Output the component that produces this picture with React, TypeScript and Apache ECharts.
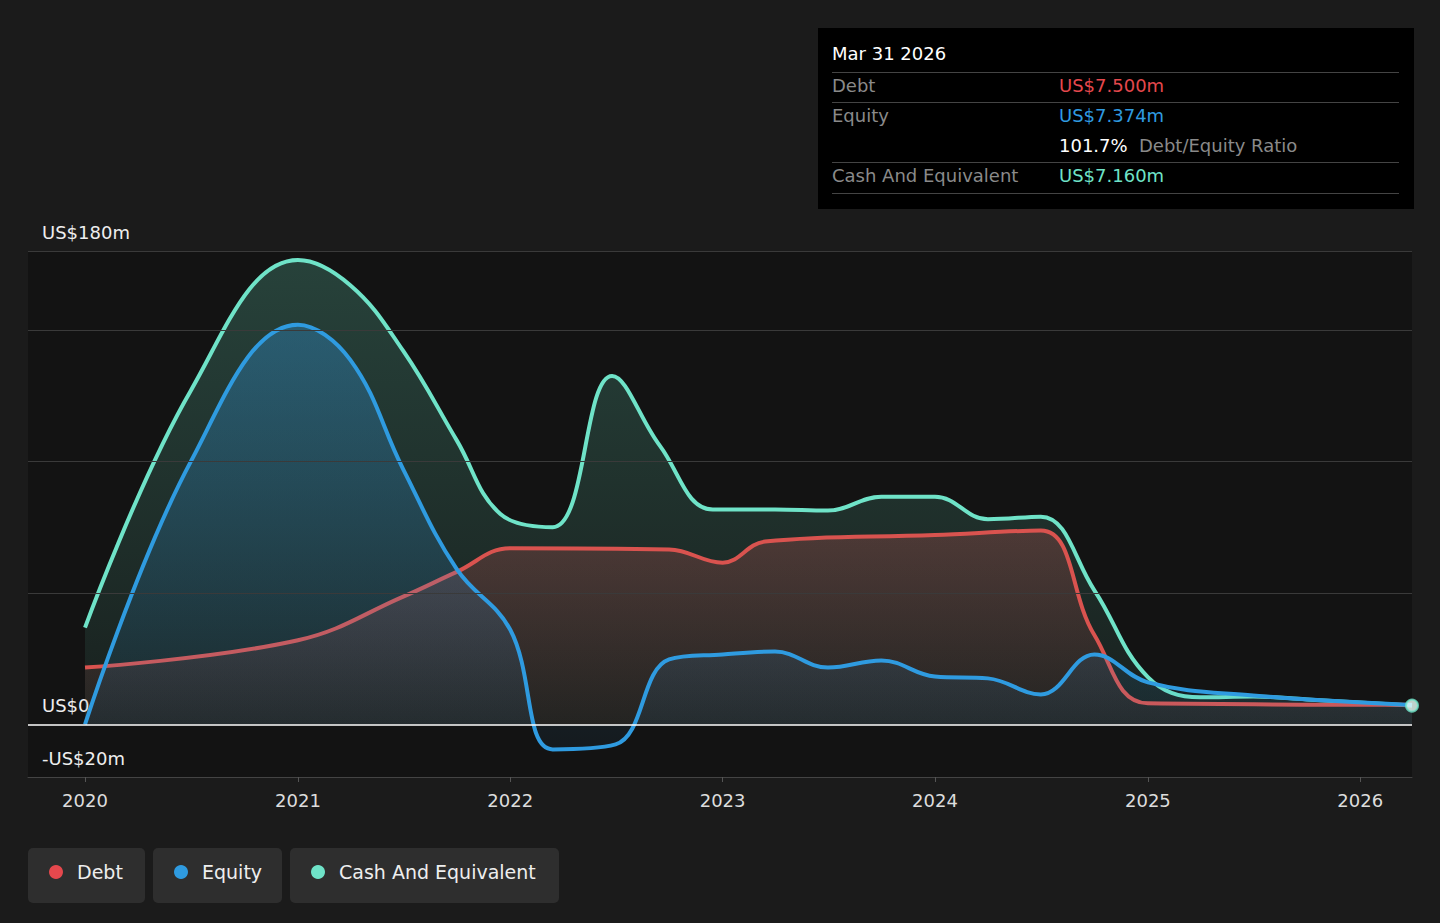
import { useEffect, useRef } from "react";
import * as echarts from "echarts";

// values in US$m
const debtData: [string, number][] = [
  ["2020-01-01", 21.6], ["2021-01-01", 32], ["2021-07-01", 48.6], ["2021-10-01", 58],
  ["2022-01-01", 67], ["2022-10-01", 66.5], ["2023-01-01", 61.5], ["2023-03-15", 69.5],
  ["2024-01-01", 72], ["2024-07-01", 73.7], ["2024-10-01", 34], ["2025-01-01", 8],
  ["2026-03-31", 7.5],
];
const equityData: [string, number][] = [
  ["2020-01-01", 0], ["2020-07-01", 100], ["2021-01-01", 152], ["2021-04-01", 138.6],
  ["2021-07-01", 97], ["2021-10-01", 59], ["2022-01-01", 36], ["2022-03-15", -9.5],
  ["2022-07-01", -7.6], ["2022-10-01", 24.7], ["2023-01-01", 26.6], ["2023-04-01", 27.7],
  ["2023-07-01", 21.6], ["2023-10-01", 24.3], ["2024-01-01", 18.2], ["2024-04-01", 17.5],
  ["2024-07-01", 11.4], ["2024-10-01", 26.6], ["2025-01-01", 16], ["2025-07-01", 11],
  ["2026-03-31", 7.374],
];
const cashData: [string, number][] = [
  ["2020-01-01", 36.8], ["2020-07-01", 127], ["2021-01-01", 176.6], ["2021-04-01", 167],
  ["2021-07-01", 142], ["2021-10-01", 108], ["2021-12-15", 80], ["2022-03-15", 75],
  ["2022-06-25", 132.5], ["2022-09-15", 106], ["2022-12-15", 81.7], ["2023-04-01", 81.7],
  ["2023-07-01", 81.3], ["2023-10-01", 86.6], ["2024-01-01", 86.6], ["2024-04-01", 78],
  ["2024-07-01", 79], ["2024-10-01", 51], ["2025-01-01", 18], ["2025-04-01", 10.3],
  ["2025-07-01", 10.6], ["2025-10-01", 9.5], ["2026-03-31", 7.16],
];
const gridLines = [150, 100, 50];
const yLabels = [180, 0, -20];

const font = "DejaVu Sans, sans-serif";

const area = (c: string, a: number, b = 0.08) => ({
  color: new echarts.graphic.LinearGradient(0, 0, 0, 1, [
    { offset: 0, color: `rgba(${c},${a})` },
    { offset: 1, color: `rgba(${c},${b})` },
  ]),
});

const legendItems = [
  { name: "Debt", color: "#e5484d", x: 28, w: 117 },
  { name: "Equity", color: "#2f9be0", x: 153, w: 129 },
  { name: "Cash And Equivalent", color: "#6fe3c8", x: 290, w: 269 },
];

export default function App() {
  const ref = useRef<HTMLDivElement>(null);

  useEffect(() => {
    document.body.style.margin = "0";
    if (!ref.current) return;
    const chart = echarts.init(ref.current, null, { renderer: "svg" });
    const tipRow = (y: number, label: string, value: string, color: string) => [
      { type: "text", left: 832, top: y, style: { text: label, fill: "#8a8a8a", font: `18px ${font}` } },
      { type: "text", left: 1059, top: y, style: { text: value, fill: color, font: `18px ${font}` } },
    ];
    const sep = (y: number) => ({
      type: "rect", shape: { x: 832, y, width: 567, height: 1 }, style: { fill: "#444" },
    });
    chart.setOption({
      animation: false,
      backgroundColor: "#1b1b1b",
      textStyle: { fontFamily: font },
      grid: { left: 28, right: 28, top: 251, bottom: 146, show: true, backgroundColor: "#131313", borderWidth: 0 },
      xAxis: {
        type: "time",
        min: new Date("2019-09-25").getTime(),
        max: new Date("2026-03-31").getTime(),
        interval: 365.25 * 24 * 3600 * 1000,
        axisLine: { show: true, onZero: false, lineStyle: { color: "#444" } },
        axisTick: { show: true, lineStyle: { color: "#555" } },
        splitLine: { show: false },
        axisLabel: {
          color: "#ddd", fontSize: 18, margin: 14,
          formatter: (v: number) => String(new Date(v).getFullYear()),
        },
      },
      yAxis: {
        type: "value", min: -20, max: 180, interval: 10,
        splitLine: { show: false },
        axisLine: { show: false }, axisTick: { show: false },
        axisLabel: {
          inside: true, color: "#eee", fontSize: 18, verticalAlign: "bottom", margin: 14,
          padding: [0, 0, 10, 0],
          formatter: (v: number) => (yLabels.includes(v) ? (v < 0 ? `-US$${-v}m` : v === 0 ? "US$0" : `US$${v}m`) : ""),
        },
      },
      series: [
        {
          name: "Cash And Equivalent", type: "line", data: cashData, smooth: 0.4, symbol: "none",
          lineStyle: { color: "#6fe3c8", width: 4 }, areaStyle: area("100,210,180", 0.35, 0.1), z: 2,
          markLine: {
            silent: true, symbol: "none", label: { show: false },
            lineStyle: { color: "#3a3a3a", type: "solid", width: 1 },
            data: [...gridLines, 180].map((y) => ({ yAxis: y })),
          },
        },
        {
          name: "Debt", type: "line", data: debtData, smooth: 0.4, symbol: "none",
          lineStyle: { color: "#d9534f", width: 4 }, areaStyle: area("220,90,90", 0.35), z: 3,
        },
        {
          name: "Equity", type: "line", data: equityData, smooth: 0.4, symbol: "none",
          lineStyle: { color: "#2f9be0", width: 4 }, areaStyle: area("50,150,220", 0.5), z: 4,
          markLine: {
            silent: true, symbol: "none", label: { show: false },
            lineStyle: { color: "#fff", type: "solid", width: 1.5 },
            data: [{ yAxis: 0 }],
          },
        },
        {
          type: "scatter", data: [cashData[cashData.length - 1]], symbolSize: 12, z: 6,
          itemStyle: { color: "#e8fff8", borderColor: "#6fe3c8", borderWidth: 2 },
        },
      ],
      graphic: [
        { type: "rect", shape: { x: 818, y: 28, width: 596, height: 181 }, style: { fill: "#000" } },
        { type: "text", left: 832, top: 44, style: { text: "Mar 31 2026", fill: "#fff", font: `18px ${font}` } },
        sep(72),
        ...tipRow(76, "Debt", "US$7.500m", "#e5484d"),
        sep(102),
        ...tipRow(106, "Equity", "US$7.374m", "#2f9be0"),
        { type: "text", left: 1059, top: 136, style: { text: "101.7%", fill: "#fff", font: `18px ${font}` } },
        { type: "text", left: 1139, top: 136, style: { text: "Debt/Equity Ratio", fill: "#8a8a8a", font: `18px ${font}` } },
        sep(162),
        ...tipRow(166, "Cash And Equivalent", "US$7.160m", "#6fe3c8"),
        sep(193),
        ...legendItems.flatMap((l) => [
          { type: "rect", shape: { x: l.x, y: 848, width: l.w, height: 55, r: 5 }, style: { fill: "#2e2e2e" } },
          { type: "circle", shape: { cx: l.x + 28, cy: 872, r: 7 }, style: { fill: l.color } },
          { type: "text", left: l.x + 49, top: 862, style: { text: l.name, fill: "#eee", font: `19px ${font}` } },
        ]),
      ],
    });
    return () => chart.dispose();
  }, []);

  return <div ref={ref} style={{ width: 1440, height: 923 }} />;
}
